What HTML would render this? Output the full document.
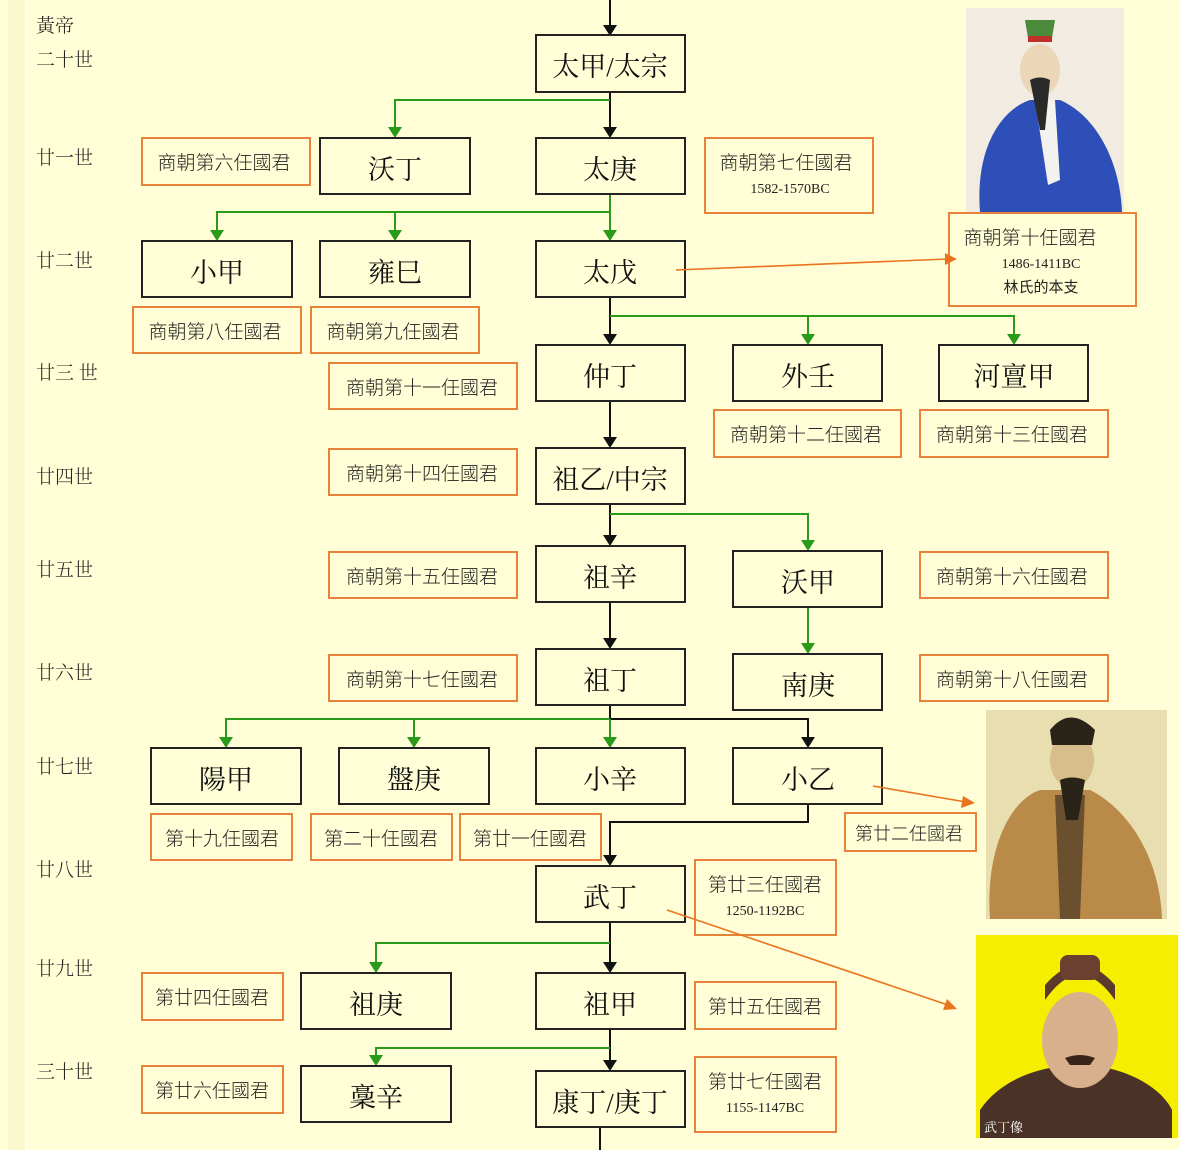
<!DOCTYPE html>
<html><head><meta charset="utf-8"><style>
html,body{margin:0;padding:0;background:#FFFED6;}
svg{display:block}
text{font-family:"Liberation Serif","Noto Serif CJK SC","Noto Sans CJK TC",serif;}
.b{fill:#FFFED6;stroke:#222;stroke-width:2}
.o{fill:#FFFED6;stroke:#E8823A;stroke-width:2}
.bt{font-size:27px;fill:#111;text-anchor:middle}
.ot{font-size:19px;fill:#222;text-anchor:middle;font-family:"Noto Sans CJK TC","Liberation Sans",sans-serif;font-weight:300}
.dt{font-size:14px;fill:#222;text-anchor:middle}
.gt{font-size:19px;fill:#222;font-family:"Noto Sans CJK TC","Liberation Sans",sans-serif;font-weight:300}
.k{stroke:#111;stroke-width:2;fill:none}
.g{stroke:#2A9A1A;stroke-width:2;fill:none}
.r{stroke:#E8741E;stroke-width:1.6;fill:none}
</style></head><body>
<svg width="1180" height="1150" viewBox="0 0 1180 1150" xmlns="http://www.w3.org/2000/svg">
<rect width="1180" height="1150" fill="#FFFED6"/>
<rect x="8" y="0" width="17" height="1150" fill="#FBF7CC"/>
<rect x="25" y="0" width="3" height="1150" fill="#FFFFF0"/>

<g class="gt">
<text x="36" y="32">黃帝</text>
<text x="36" y="66">二十世</text>
<text x="36" y="164">廿一世</text>
<text x="36" y="267">廿二世</text>
<text x="36" y="379">廿三 世</text>
<text x="36" y="483">廿四世</text>
<text x="36" y="576">廿五世</text>
<text x="36" y="679">廿六世</text>
<text x="36" y="773">廿七世</text>
<text x="36" y="876">廿八世</text>
<text x="36" y="975">廿九世</text>
<text x="36" y="1078">三十世</text>
</g>

<g class="k">
<line x1="610" y1="0" x2="610" y2="28"/>
<line x1="610" y1="92" x2="610" y2="131"/>
<line x1="610" y1="297" x2="610" y2="338"/>
<line x1="610" y1="401" x2="610" y2="441"/>
<line x1="610" y1="504" x2="610" y2="539"/>
<line x1="610" y1="602" x2="610" y2="642"/>
<polyline points="610,705 610,719 808,719 808,741"/>
<polyline points="808,804 808,822 610,822 610,859"/>
<line x1="610" y1="922" x2="610" y2="966"/>
<line x1="610" y1="1029" x2="610" y2="1064"/>
<line x1="600" y1="1127" x2="600" y2="1150"/>
</g>
<g fill="#111">
<path d="M603,25 L617,25 L610,36 Z"/>
<path d="M603,127 L617,127 L610,138 Z"/>
<path d="M603,334 L617,334 L610,345 Z"/>
<path d="M603,437 L617,437 L610,448 Z"/>
<path d="M603,535 L617,535 L610,546 Z"/>
<path d="M603,638 L617,638 L610,649 Z"/>
<path d="M801,737 L815,737 L808,748 Z"/>
<path d="M603,855 L617,855 L610,866 Z"/>
<path d="M603,962 L617,962 L610,973 Z"/>
<path d="M603,1060 L617,1060 L610,1071 Z"/>
</g>
<g class="g">
<polyline points="610,100 395,100 395,131"/>
<polyline points="610,194 610,234"/>
<polyline points="610,212 217,212 217,234"/>
<line x1="395" y1="212" x2="395" y2="234"/>
<polyline points="610,316 1014,316 1014,338"/>
<line x1="808" y1="316" x2="808" y2="338"/>
<polyline points="610,514 808,514 808,544"/>
<line x1="808" y1="607" x2="808" y2="647"/>
<polyline points="610,719 226,719 226,741"/>
<line x1="414" y1="719" x2="414" y2="741"/>
<line x1="610" y1="719" x2="610" y2="741"/>
<polyline points="610,943 376,943 376,966"/>
<polyline points="610,1048 376,1048 376,1059"/>
</g>
<g fill="#2A9A1A">
<path d="M388,127 L402,127 L395,138 Z"/>
<path d="M603,230 L617,230 L610,241 Z"/>
<path d="M210,230 L224,230 L217,241 Z"/>
<path d="M388,230 L402,230 L395,241 Z"/>
<path d="M801,334 L815,334 L808,345 Z"/>
<path d="M1007,334 L1021,334 L1014,345 Z"/>
<path d="M801,540 L815,540 L808,551 Z"/>
<path d="M801,643 L815,643 L808,654 Z"/>
<path d="M219,737 L233,737 L226,748 Z"/>
<path d="M407,737 L421,737 L414,748 Z"/>
<path d="M603,737 L617,737 L610,748 Z"/>
<path d="M369,962 L383,962 L376,973 Z"/>
<path d="M369,1055 L383,1055 L376,1066 Z"/>
</g>

<g>
<rect x="966" y="8" width="158" height="204" fill="#F2EBE2"/>
<path d="M980,212 C975,150 1000,110 1030,100 L1060,100 C1095,115 1120,160 1122,212 Z" fill="#2E4FB8"/>
<path d="M1035,100 L1055,100 L1060,180 L1048,185 Z" fill="#F4F2EE"/>
<ellipse cx="1040" cy="70" rx="20" ry="26" fill="#EBD6B8"/>
<path d="M1025,20 L1055,20 L1052,38 L1028,38 Z" fill="#4B8A3A"/>
<rect x="1028" y="36" width="24" height="6" fill="#C0302A"/>
<path d="M1030,80 Q1040,75 1050,80 L1045,130 L1040,130 Z" fill="#2A2A2A"/>

<rect x="986" y="710" width="181" height="209" fill="#E9DEAF"/>
<path d="M990,919 C985,850 1010,800 1040,790 L1090,790 C1130,810 1160,860 1162,919 Z" fill="#B98A48"/>
<path d="M1055,795 L1085,795 L1080,919 L1060,919 Z" fill="#6B5030"/>
<ellipse cx="1072" cy="760" rx="22" ry="28" fill="#D8BE8A"/>
<path d="M1050,730 Q1070,705 1095,730 L1092,745 L1052,745 Z" fill="#2A2418"/>
<path d="M1060,780 Q1072,775 1085,780 L1078,820 L1066,820 Z" fill="#2A2418"/>

<rect x="976" y="935" width="202" height="203" fill="#F5EE00"/>
<path d="M980,1138 L980,1110 C1000,1080 1040,1065 1080,1065 C1120,1065 1160,1085 1172,1110 L1172,1138 Z" fill="#4A3226"/>
<ellipse cx="1080" cy="1040" rx="38" ry="48" fill="#D9B08C"/>
<path d="M1045,1000 Q1080,950 1115,1000 L1115,985 Q1080,945 1045,985 Z" fill="#5A3A2A"/>
<rect x="1060" y="955" width="40" height="25" rx="8" fill="#6A4030"/>
<path d="M1065,1058 Q1080,1052 1095,1058 L1090,1065 L1070,1065 Z" fill="#3A2418"/>
<text x="984" y="1132" font-size="13" fill="#fff" font-family="Noto Sans CJK TC,sans-serif">武丁像</text>
</g>

<g>
<rect class="b" x="536" y="35" width="149" height="57"/><text class="bt" x="610" y="76">太甲/太宗</text>
<rect class="b" x="320" y="138" width="150" height="56"/><text class="bt" x="395" y="179">沃丁</text>
<rect class="b" x="536" y="138" width="149" height="56"/><text class="bt" x="610" y="179">太庚</text>
<rect class="b" x="142" y="241" width="150" height="56"/><text class="bt" x="217" y="282">小甲</text>
<rect class="b" x="320" y="241" width="150" height="56"/><text class="bt" x="395" y="282">雍巳</text>
<rect class="b" x="536" y="241" width="149" height="56"/><text class="bt" x="610" y="282">太戊</text>
<rect class="b" x="536" y="345" width="149" height="56"/><text class="bt" x="610" y="386">仲丁</text>
<rect class="b" x="733" y="345" width="149" height="56"/><text class="bt" x="808" y="386">外壬</text>
<rect class="b" x="939" y="345" width="149" height="56"/><text class="bt" x="1014" y="386">河亶甲</text>
<rect class="b" x="536" y="448" width="149" height="56"/><text class="bt" x="610" y="489">祖乙/中宗</text>
<rect class="b" x="536" y="546" width="149" height="56"/><text class="bt" x="610" y="587">祖辛</text>
<rect class="b" x="733" y="551" width="149" height="56"/><text class="bt" x="808" y="592">沃甲</text>
<rect class="b" x="536" y="649" width="149" height="56"/><text class="bt" x="610" y="690">祖丁</text>
<rect class="b" x="733" y="654" width="149" height="56"/><text class="bt" x="808" y="695">南庚</text>
<rect class="b" x="151" y="748" width="150" height="56"/><text class="bt" x="226" y="789">陽甲</text>
<rect class="b" x="339" y="748" width="150" height="56"/><text class="bt" x="414" y="789">盤庚</text>
<rect class="b" x="536" y="748" width="149" height="56"/><text class="bt" x="610" y="789">小辛</text>
<rect class="b" x="733" y="748" width="149" height="56"/><text class="bt" x="808" y="789">小乙</text>
<rect class="b" x="536" y="866" width="149" height="56"/><text class="bt" x="610" y="907">武丁</text>
<rect class="b" x="301" y="973" width="150" height="56"/><text class="bt" x="376" y="1014">祖庚</text>
<rect class="b" x="536" y="973" width="149" height="56"/><text class="bt" x="610" y="1014">祖甲</text>
<rect class="b" x="301" y="1066" width="150" height="56"/><text class="bt" x="376" y="1107">稾辛</text>
<rect class="b" x="536" y="1071" width="149" height="56"/><text class="bt" x="610" y="1112">康丁/庚丁</text>
</g>

<g>
<rect class="o" x="142" y="138" width="168" height="47"/><text class="ot" x="224" y="169">商朝第六任國君</text>
<rect class="o" x="705" y="138" width="168" height="75"/><text class="ot" x="786" y="169">商朝第七任國君</text><text class="dt" x="790" y="193">1582-1570BC</text>
<rect class="o" x="949" y="213" width="187" height="93"/><text class="ot" x="1030" y="244">商朝第十任國君</text><text class="dt" x="1041" y="268">1486-1411BC</text><text class="dt" x="1041" y="292" style="font-family:'Noto Sans CJK TC',sans-serif;font-size:15px">林氏的本支</text>
<rect class="o" x="133" y="307" width="168" height="46"/><text class="ot" x="215" y="338">商朝第八任國君</text>
<rect class="o" x="311" y="307" width="168" height="46"/><text class="ot" x="393" y="338">商朝第九任國君</text>
<rect class="o" x="329" y="363" width="188" height="46"/><text class="ot" x="422" y="394">商朝第十一任國君</text>
<rect class="o" x="714" y="410" width="187" height="47"/><text class="ot" x="806" y="441">商朝第十二任國君</text>
<rect class="o" x="920" y="410" width="188" height="47"/><text class="ot" x="1012" y="441">商朝第十三任國君</text>
<rect class="o" x="329" y="449" width="188" height="46"/><text class="ot" x="422" y="480">商朝第十四任國君</text>
<rect class="o" x="329" y="552" width="188" height="46"/><text class="ot" x="422" y="583">商朝第十五任國君</text>
<rect class="o" x="920" y="552" width="188" height="46"/><text class="ot" x="1012" y="583">商朝第十六任國君</text>
<rect class="o" x="329" y="655" width="188" height="46"/><text class="ot" x="422" y="686">商朝第十七任國君</text>
<rect class="o" x="920" y="655" width="188" height="46"/><text class="ot" x="1012" y="686">商朝第十八任國君</text>
<rect class="o" x="151" y="814" width="141" height="46"/><text class="ot" x="222" y="845">第十九任國君</text>
<rect class="o" x="311" y="814" width="141" height="46"/><text class="ot" x="381" y="845">第二十任國君</text>
<rect class="o" x="460" y="814" width="141" height="46"/><text class="ot" x="530" y="845">第廿一任國君</text>
<rect class="o" x="845" y="813" width="131" height="38"/><text class="ot" x="909" y="840" style="font-size:18px">第廿二任國君</text>
<rect class="o" x="695" y="860" width="141" height="75"/><text class="ot" x="765" y="891">第廿三任國君</text><text class="dt" x="765" y="915">1250-1192BC</text>
<rect class="o" x="142" y="973" width="141" height="47"/><text class="ot" x="212" y="1004">第廿四任國君</text>
<rect class="o" x="695" y="982" width="141" height="47"/><text class="ot" x="765" y="1013">第廿五任國君</text>
<rect class="o" x="142" y="1066" width="141" height="47"/><text class="ot" x="212" y="1097">第廿六任國君</text>
<rect class="o" x="695" y="1057" width="141" height="75"/><text class="ot" x="765" y="1088">第廿七任國君</text><text class="dt" x="765" y="1112">1155-1147BC</text>
</g>

<g class="r">
<line x1="676" y1="270" x2="948" y2="259"/>
<line x1="873" y1="786" x2="966" y2="802"/>
<line x1="667" y1="910" x2="948" y2="1005"/>
</g>
<g fill="#E8741E">
<path d="M957,259 L945,253 L945,265 Z"/>
<path d="M975,803 L963,796 L961,808 Z"/>
<path d="M957,1009 L947,999 L943,1010 Z"/>
</g>
</svg>
</body></html>
